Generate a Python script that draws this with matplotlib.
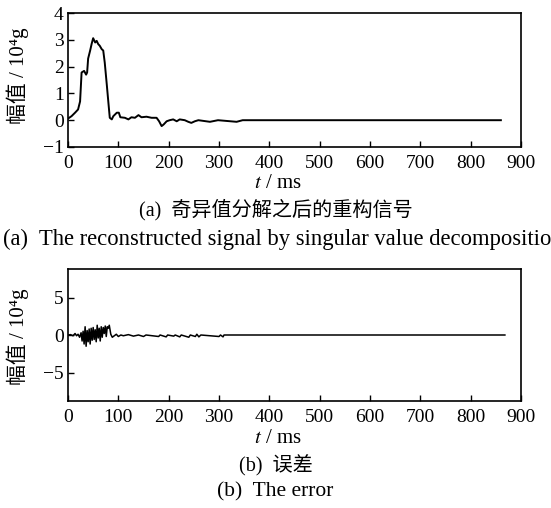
import matplotlib
matplotlib.use("Agg")
import matplotlib.pyplot as plt

plt.rcParams['font.family'] = ['Liberation Serif', 'Noto Sans CJK SC', 'DejaVu Sans']
plt.rcParams['mathtext.fontset'] = 'stix'
plt.rcParams['axes.unicode_minus'] = True

# (a) reconstructed signal
t_a = [0, 7, 14, 20, 24, 27, 32, 36, 38, 40, 44, 47, 50, 54, 57, 60, 63, 67, 70, 73, 77, 80, 83,
       87, 90, 97, 101, 104, 113, 120, 126, 133, 140, 146, 156, 166, 176, 181, 186, 190, 196, 202,
       209, 216, 222, 232, 239, 245, 252, 259, 282, 298, 335, 347, 860]
y_a = [0.06, 0.15, 0.28, 0.40, 0.70, 1.78, 1.84, 1.70, 1.78, 2.30, 2.60, 2.85, 3.06, 2.90, 2.96,
       2.84, 2.78, 2.65, 2.60, 2.15, 1.34, 0.71, 0.09, 0.03, 0.15, 0.28, 0.28, 0.11, 0.09, 0.03,
       0.11, 0.09, 0.19, 0.11, 0.13, 0.09, 0.09, -0.04, -0.22, -0.16, -0.04, 0.0, 0.03, -0.04,
       0.03, 0.0, -0.06, -0.10, -0.04, 0.0, -0.06, 0.0, -0.06, 0.0, 0.0]

# (b) error
t_b = [0, 5, 10, 14, 17, 20, 23, 26, 28, 30, 32, 34, 36, 38, 40, 42, 44, 46, 48, 50, 52, 54, 56,
       58, 60, 62, 64, 66, 68, 70, 72, 74, 76, 78, 80, 82, 85, 88, 92, 96, 100, 105, 110, 120,
       130, 140, 150, 155, 180, 183, 195, 198, 210, 213, 222, 225, 240, 243, 253, 256, 260, 264,
       300, 303, 308, 310, 868]
y_b = [0.0, 0.05, -0.1, 0.2, -0.1, 0.1, -0.3, 0.3, -0.8, 0.5, -1.2, 1.1, -1.5, 0.6, -0.9, 0.8,
       -1.2, 0.9, -0.7, 1.0, -0.6, 0.7, -0.9, 1.3, -0.4, 0.9, -0.8, 1.1, -0.3, 1.0, 0.2, 1.2,
       -0.2, 1.1, 0.9, 1.3, 0.1, -0.3, -0.1, 0.1, -0.2, 0.0, -0.1, 0.05, -0.15, 0.0, -0.2, 0.0,
       -0.2, 0.0, -0.25, 0.0, -0.15, 0.0, -0.25, 0.0, -0.3, 0.0, -0.2, 0.1, -0.25, 0.0, -0.2,
       0.0, -0.25, 0.0, 0.0]

x_ticks = [0, 100, 200, 300, 400, 500, 600, 700, 800, 900]
ya_ticks = [-1, 0, 1, 2, 3, 4]
yb_ticks = [-5, 0, 5]

ylabel = '幅值 / 10⁴g'
xlabel = '$t$ / ms'
cap_a_cn = '(a)  奇异值分解之后的重构信号'
cap_a_en = '(a)  The reconstructed signal by singular value decomposition'
cap_b_cn = '(b)  误差'
cap_b_en = '(b)  The error'

W, H = 551, 508
fig = plt.figure(figsize=(W / 100, H / 100), dpi=100)

def fx(px):
    return px / W

def fy(py):
    return 1 - py / H

ax1 = fig.add_axes([fx(68), fy(147), fx(521) - fx(68), fy(13) - fy(147)])
ax2 = fig.add_axes([fx(68), fy(401), fx(521) - fx(68), fy(269) - fy(401)])

ax1.plot(t_a, y_a, color='black', lw=1.4)
ax2.plot(t_b, y_b, color='black', lw=1.1)

ax1.set_ylim(-1, 4)
ax1.set_yticks(ya_ticks)
ax2.set_ylim(-8.8, 8.8)
ax2.set_yticks(yb_ticks)

for ax in (ax1, ax2):
    ax.set_xlim(0, 900)
    ax.set_xticks(x_ticks)
    ax.tick_params(direction='in', length=4, width=1, labelsize=14,
                   top=False, right=False)
    ax.tick_params(axis='x', pad=6)
    ax.tick_params(axis='y', pad=3)
    for s in ax.spines.values():
        s.set_linewidth(1.2)
    ax.set_ylabel(ylabel, fontsize=15)
    ax.set_xlabel(xlabel, fontsize=15)

ax1.yaxis.set_label_coords(-0.086, 0.53)
ax2.yaxis.set_label_coords(-0.086, 0.49)
ax1.xaxis.set_label_coords(0.464, -0.205)
ax2.xaxis.set_label_coords(0.464, -0.215)

fig.text(0.5, fy(210), cap_a_cn, ha='center', va='center', fontsize=14.5)
fig.text(fx(3), fy(239), cap_a_en, ha='left', va='center', fontsize=16.3)
fig.text(0.5, fy(466), cap_b_cn, ha='center', va='center', fontsize=14.5)
fig.text(0.5, fy(492), cap_b_en, ha='center', va='center', fontsize=15.5)

fig.savefig('out.png', dpi=100)
